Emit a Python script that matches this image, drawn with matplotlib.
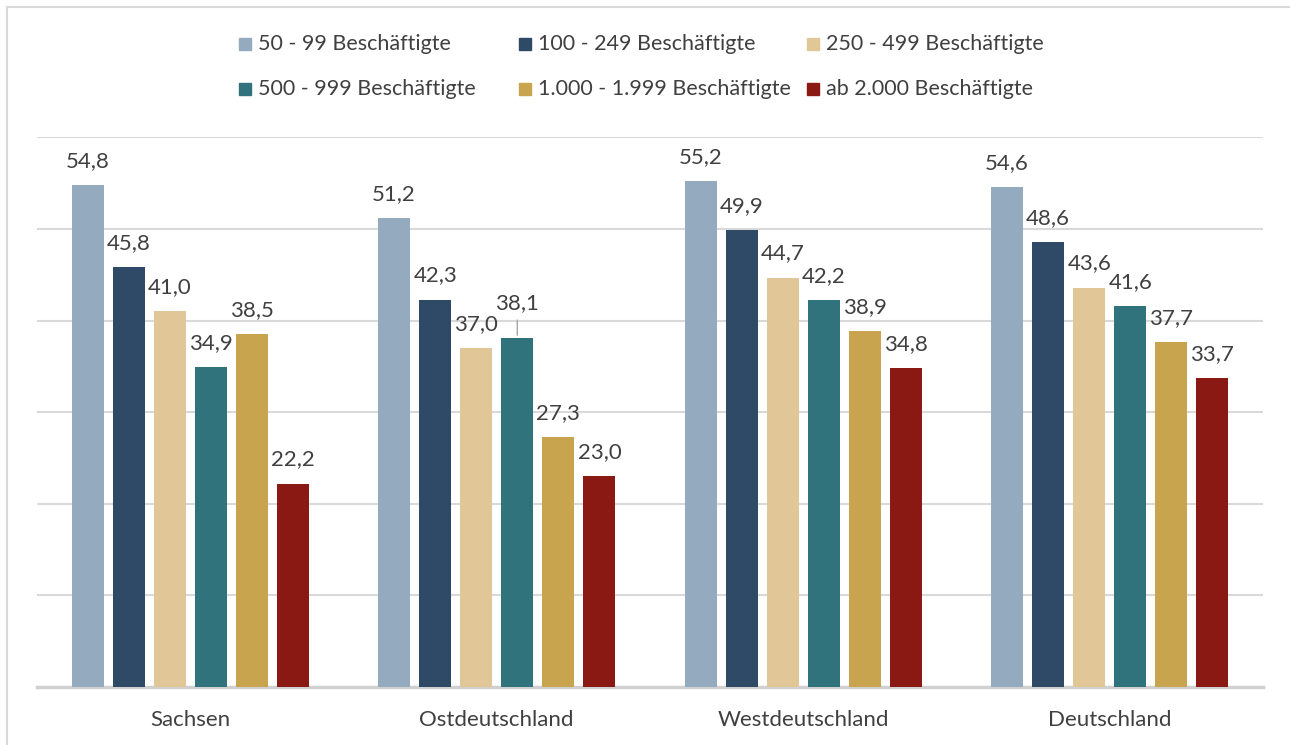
import numpy as np
import matplotlib.pyplot as plt
from matplotlib.patches import Rectangle
from matplotlib.lines import Line2D

plt.rcParams['font.family'] = ['Lato', 'DejaVu Sans']

# data
regions = ["Sachsen", "Ostdeutschland", "Westdeutschland", "Deutschland"]
groups = ["50 - 99 Beschäftigte", "100 - 249 Beschäftigte", "250 - 499 Beschäftigte",
          "500 - 999 Beschäftigte", "1.000 - 1.999 Beschäftigte", "ab 2.000 Beschäftigte"]
v_50_99 = [54.8, 51.2, 55.2, 54.6]
v_100_249 = [45.8, 42.3, 49.9, 48.6]
v_250_499 = [41.0, 37.0, 44.7, 43.6]
v_500_999 = [34.9, 38.1, 42.2, 41.6]
v_1000_1999 = [38.5, 27.3, 38.9, 37.7]
v_ab_2000 = [22.2, 23.0, 34.8, 33.7]
series = [v_50_99, v_100_249, v_250_499, v_500_999, v_1000_1999, v_ab_2000]

colors = ['#94AABE', '#2E4A66', '#E1C698', '#31737C', '#C9A44F', '#8A1913']
txt = '#404040'

fig = plt.figure(figsize=(12.9, 7.45), dpi=100)
ax = fig.add_axes([37/1290, 1-687/745, 1226/1290, 549.6/745])

x = np.arange(len(regions))
width = 0.104
pitch = 0.134
for i, vals in enumerate(series):
    pos = x + (i - 2.5) * pitch
    ax.bar(pos, vals, width=width, color=colors[i], zorder=3)
    for p, v, r in zip(pos, vals, regions):
        label = f"{v:.1f}".replace('.', ',')
        if r == "Ostdeutschland" and i == 3:
            # label pushed up with leader line
            ax.annotate(label, (p, v), xytext=(0, 21), textcoords='offset points',
                        ha='center', va='baseline', fontsize=16, color=txt)
            ax.annotate('', (p, v), xytext=(0, 15), textcoords='offset points',
                        arrowprops=dict(arrowstyle='-', color='#a6a6a6', lw=1))
        else:
            ax.annotate(label, (p, v), xytext=(0, 13), textcoords='offset points',
                        ha='center', va='baseline', fontsize=16, color=txt)

ax.set_xlim(-0.5, 3.5)
ax.set_ylim(0, 60)
ax.set_yticks(np.arange(10, 61, 10))
ax.yaxis.grid(True, color='#d9d9d9', lw=1.5, zorder=0)
ax.tick_params(axis='y', left=False, labelleft=False)
ax.tick_params(axis='x', bottom=False, labelsize=16, labelcolor=txt, pad=13)
ax.set_xticks(x)
ax.set_xticklabels(regions)
for s in ['top', 'right', 'left']:
    ax.spines[s].set_visible(False)
ax.spines['bottom'].set_color('#d0d0d0')
ax.spines['bottom'].set_linewidth(2.5)
ax.set_axisbelow(True)

# legend, laid out like the original
text_x = [258, 538, 826]
row_y = [44, 89]
for i, g in enumerate(groups):
    tx = text_x[i % 3]
    cy = row_y[i // 3]
    fig.patches.append(Rectangle(((tx - 19) / 1290, 1 - (cy + 6) / 745), 12 / 1290, 12 / 745,
                                 transform=fig.transFigure, color=colors[i]))
    fig.text(tx / 1290, 1 - cy / 745, g, ha='left', va='center',
             fontsize=15.5, color=txt)

# chart frame (top and left visible)
fig.lines.append(Line2D([7/1290, 1.0], [1-7/745, 1-7/745], transform=fig.transFigure,
                        color='#d9d9d9', lw=1.5))
fig.lines.append(Line2D([7/1290, 7/1290], [0, 1-7/745], transform=fig.transFigure,
                        color='#d9d9d9', lw=1.5))

fig.savefig('out.png', dpi=100)
